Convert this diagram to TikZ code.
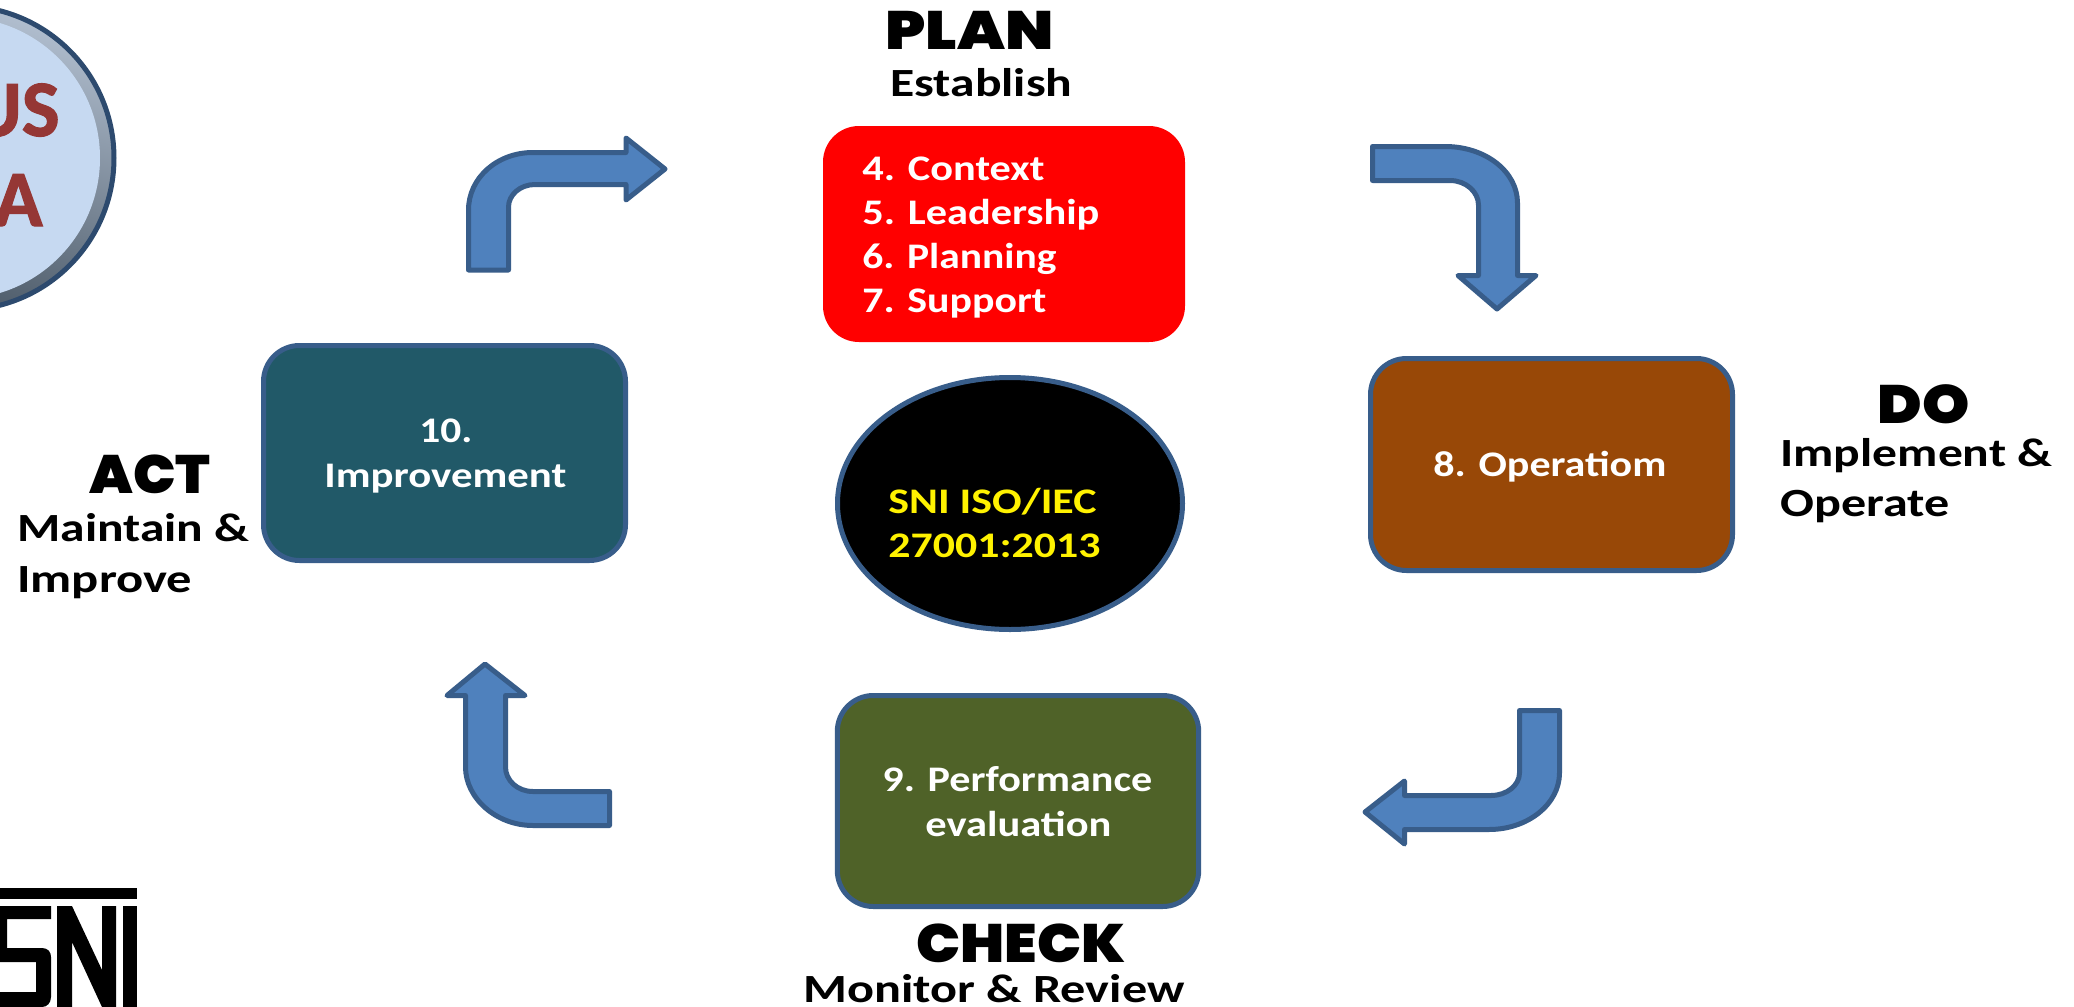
\documentclass[tikz,border=0pt]{standalone}
\usepackage{fontspec}
\usepackage{graphicx}
\usetikzlibrary{shapes.geometric}
\setmainfont{Carlito}
\newfontfamily\headf{Poppins Black}
\newfontfamily\ringf[FakeBold=1.5]{Carlito Bold}
\definecolor{edgeblue}{HTML}{385D8A}
\definecolor{arrowblue}{HTML}{4F81BD}
\definecolor{planred}{HTML}{FF0000}
\definecolor{teal}{HTML}{215968}
\definecolor{brownbox}{HTML}{984807}
\definecolor{olivebox}{HTML}{4F6228}
\definecolor{ringtop}{HTML}{C6D9F1}
\definecolor{ringbot}{HTML}{4A5866}
\definecolor{ringtext}{HTML}{953735}
\newcommand{\fitw}[2]{\resizebox{#1pt}{\height}{#2}}
\tikzset{
  x=0.5pt,y=-0.5pt,
  blockbox/.style={rectangle,rounded corners=18pt,draw=edgeblue,line width=2.5pt,inner sep=0pt},
  bent/.style={fill=arrowblue,draw=edgeblue,line width=2.5pt,line join=round},
  boxtext/.style={anchor=base west,inner sep=0pt,text=white,font=\fontsize{18}{18}\selectfont\bfseries},
  sublabel/.style={anchor=base west,inner sep=0pt,text=black,font=\fontsize{20}{20}\selectfont\bfseries},
  headlabel/.style={anchor=base west,inner sep=0pt,text=black,font=\fontsize{27}{27}\headf},
  ringlabel/.style={anchor=base east,inner sep=0pt,text=ringtext,font=\fontsize{40}{40}\ringf}
}
\begin{document}
\begin{tikzpicture}
\useasboundingbox (0,0) rectangle (2074,1007);
\fill[white] (0,0) rectangle (2074,1007);
% badge
\draw[edgeblue!80!black,line width=2.5pt,shade,top color=ringtop!70!gray,bottom color=ringbot,shading angle=-15]
  (-38,158) circle [radius=76pt];
\fill[ringtop] (-41,158) circle [radius=70.5pt];
\node[ringlabel] (us) at (60,136) {US};
\node[ringlabel] (a) at (43,226) {A};
% SNI logo
\fill[black] (0,888) rectangle (137,899);
\fill[black] (0,906) -- (51,906) -- (51,919) -- (7,919) -- (7,948) -- (42,948)
  .. controls (48,948) and (51,952) .. (51,957) -- (51,997)
  .. controls (51,1003) and (47,1007) .. (42,1007) -- (0,1007) -- (0,992) -- (36,992) -- (36,962) -- (0,962) -- cycle;
\fill[black] (57,906) -- (72,906) -- (102,970) -- (102,906) -- (116,906) -- (116,1007)
  -- (102,1007) -- (72,942) -- (72,1007) -- (57,1007) -- cycle;
\fill[black] (123,906) rectangle (137,1007);
% boxes
\node[blockbox,draw=none,fill=planred,minimum width=181pt,minimum height=108pt] (plan) at (1004,234) {};
\node[blockbox,fill=teal,minimum width=181pt,minimum height=107.5pt] (act) at (444.5,453) {};
\node[blockbox,fill=brownbox,minimum width=181pt,minimum height=106pt] (do) at (1551.5,464.5) {};
\node[blockbox,fill=olivebox,minimum width=180.7pt,minimum height=105.5pt] (check) at (1018,801) {};
\node[ellipse,draw=edgeblue,fill=black,line width=2.5pt,inner sep=0pt,minimum width=172.5pt,minimum height=126pt] (core) at (1010,503.5) {};
% bent arrows
\draw[bent] (468.5,270) -- (468.5,210) .. controls (468.5,178) and (497,152.5) .. (533,152.5)
  -- (626,152.5) -- (626,138) -- (665,169) -- (626,200) -- (626,184.5) -- (535,184.5)
  .. controls (520,184.5) and (508.5,195) .. (508.5,207) -- (508.5,270) -- cycle;
\draw[bent] (1372.5,146.5) -- (1445,146.5) .. controls (1486,146.5) and (1517.5,172) .. (1517.5,203)
  -- (1517.5,275.5) -- (1536,275.5) -- (1497,309) -- (1458,275.5) -- (1478.5,275.5) -- (1478.5,205)
  .. controls (1478.5,192) and (1466,180.5) .. (1450,180.5) -- (1372.5,180.5) -- cycle;
\draw[bent] (1519.5,710.5) -- (1559.5,710.5) -- (1559.5,773) .. controls (1559.5,804) and (1528,829.5) .. (1489,829.5)
  -- (1404.5,829.5) -- (1404.5,844) -- (1365,812) -- (1404.5,781) -- (1404.5,795.5) -- (1491,795.5)
  .. controls (1507,795.5) and (1519.5,785) .. (1519.5,773) -- cycle;
\draw[bent] (609.5,791.5) -- (609.5,825.5) -- (533,825.5) .. controls (496,825.5) and (465.5,798) .. (465.5,767)
  -- (465.5,695.5) -- (447,695.5) -- (485,664) -- (525,695.5) -- (505.5,695.5) -- (505.5,767)
  .. controls (505.5,780) and (517,791.5) .. (533,791.5) -- cycle;
% box texts
\node[boxtext] (t4) at (862,180) {\fitw{91}{4. Context}};
\node[boxtext] (t5) at (862,224) {\fitw{118.5}{5. Leadership}};
\node[boxtext] (t6) at (862,268) {\fitw{97}{6. Planning}};
\node[boxtext] (t7) at (862,312) {\fitw{92}{7. Support}};
\node[boxtext] (t10) at (419,442) {\fitw{26.5}{10.}};
\node[boxtext] (timp) at (324,487) {\fitw{121}{Improvement}};
\node[boxtext] (t8) at (1433,476) {\fitw{116.5}{8. Operatiom}};
\node[boxtext] (t9) at (882,791) {\fitw{135}{9. Performance}};
\node[boxtext] (tev) at (925,836) {\fitw{93}{evaluation}};
\node[boxtext,text=yellow] (ts1) at (888,513) {\fitw{104}{SNI ISO/IEC}};
\node[boxtext,text=yellow] (ts2) at (888,557) {\fitw{106}{27001:2013}};
% headings
\node[headlabel] (hplan) at (885,49) {\fitw{84}{PLAN}};
\node[headlabel] (hdo) at (1877,423) {\fitw{46}{DO}};
\node[headlabel] (hact) at (89,493) {\fitw{60.5}{ACT}};
\node[headlabel] (hcheck) at (916,962) {\fitw{104.5}{CHECK}};
% sublabels
\node[sublabel] (s1) at (890,96) {\fitw{91}{Establish}};
\node[sublabel] (s2) at (1780,466) {\fitw{136}{Implement \&}};
\node[sublabel] (s3) at (1780,516) {\fitw{84.5}{Operate}};
\node[sublabel] (s4) at (17,541) {\fitw{116}{Maintain \&}};
\node[sublabel] (s5) at (17,592) {\fitw{87.5}{Improve}};
\node[sublabel] (s6) at (803,1002) {\fitw{190.5}{Monitor \& Review}};
\end{tikzpicture}
\end{document}
